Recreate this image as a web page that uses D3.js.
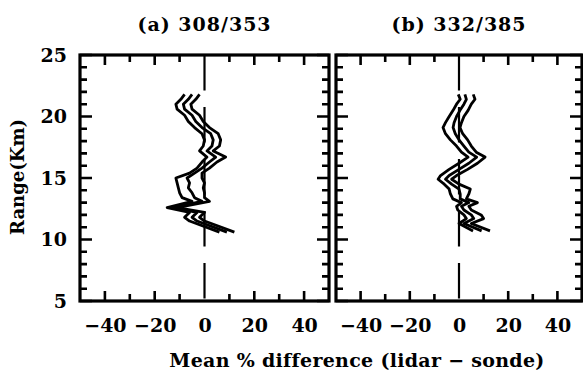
<!DOCTYPE html>
<html>
<head>
<meta charset="utf-8">
<script src="https://cdn.jsdelivr.net/npm/d3@7"></script>
<style>
  body { margin: 0; background: #fff; }
  svg { display: block; }
  text { font-family: "DejaVu Serif", serif; font-weight: bold; fill: #000; }
</style>
</head>
<body>
<div id="chart"></div>
<script>
// tick values
const xMajorTicks = [-40, -20, 0, 20, 40];
const xMinorTicks = [-40, -30, -20, -10, 10, 20, 30, 40];
const yMajorTicks = [5, 10, 15, 20, 25];
const yMinorTicks = [6, 7, 8, 9, 11, 12, 13, 14, 16, 17, 18, 19, 21, 22, 23, 24];

// panel (a) 308/353 : altitude (km) and mean % difference for the 3 curves
const altA = [21.8, 21.4, 21.0, 20.6, 20.1, 19.6, 19.1, 18.6, 18.1, 17.6, 17.2, 16.7, 16.3, 15.8, 15.4, 15.0, 14.6, 14.2, 13.8, 13.4, 13.1, 12.6, 12.2, 11.8, 11.5, 10.6];
const loA  = [-8, -9.5, -11.5, -11, -8, -6.5, -4, -1, 0, -0.5, -2, 1, -1, -3, -6, -11.5, -11, -10.5, -10, -9, -5, -15, -6, -8, -6, 6];
const midA = [-5, -6.5, -8.5, -8, -5, -3.5, -1, 2.5, 3.5, 3, 1, 4.5, 2, -1, -4, -7, -6, -6.5, -5, -4, -1, -13, -3, -5, -3, 9];
const hiA  = [-2, -3.5, -5.5, -5, -2, -0.5, 2, 5.5, 6.5, 6, 3.5, 8.5, 5, 2, -1, -1, 0, -0.5, 0, 0, 2, -11, 0, -2, 0, 12];

// panel (b) 332/385
const altB = [21.8, 21.4, 21.0, 20.5, 20.0, 19.5, 19.1, 18.6, 18.1, 17.6, 17.1, 16.7, 16.2, 15.7, 15.2, 14.9, 14.5, 14.1, 13.7, 13.3, 13.0, 12.7, 12.4, 12.0, 11.7, 11.3, 10.7];
const loB  = [-0.3, 0.5, -1, -2.4, -4, -5.5, -6.5, -5.5, -3.5, -1, 1, 3.7, 0, -4, -7.5, -8.5, -6, -4, -3.5, -2.5, 1, -1, -0.5, 2, 3, 0, 5.7];
const midB = [2.4, 3, 2, 0.4, -1, -2, -2.4, -1.5, 0, 2, 4, 7.2, 4, 0, -4, -5.5, -3, 0, 0.5, 0.5, 4, 1, 2, 5, 6, 2, 9.2];
const hiB  = [5.8, 6.5, 5, 3.7, 2, 1, 0.4, 1.5, 3.5, 5, 7, 10.6, 7.5, 3.5, -1, -3, 0, 4.6, 4, 3, 7.5, 4, 5, 9, 10, 5, 12.6];

const titles = ['(a) 308/353', '(b) 332/385'];
const xLabel = 'Mean % difference (lidar \u2212 sonde)';
const yLabel = 'Range(Km)';

const width = 583;
const height = 373;
const plotTop = 55, plotBottom = 301;

const panels = [
  { title: titles[0], left: 80, right: 329, alt: altA, curves: [loA, midA, hiA], yLabels: true },
  { title: titles[1], left: 336, right: 582, alt: altB, curves: [loB, midB, hiB], yLabels: false }
];

const svg = d3.select('#chart')
  .append('svg')
  .attr('width', width)
  .attr('height', height);

const y = d3.scaleLinear().domain([5, 25]).range([plotBottom, plotTop]);

panels.forEach(p => {
  const x = d3.scaleLinear().domain([-50, 50]).range([p.left, p.right]);
  const g = svg.append('g');

  // zero line (dashed)
  g.append('line')
    .attr('x1', x(0)).attr('x2', x(0))
    .attr('y1', y(25)).attr('y2', y(5))
    .attr('stroke', '#000')
    .attr('stroke-width', 2.2)
    .attr('stroke-dasharray', '35.5,16.5');

  // frame
  g.append('rect')
    .attr('x', p.left).attr('y', plotTop)
    .attr('width', p.right - p.left).attr('height', plotBottom - plotTop)
    .attr('fill', 'none')
    .attr('stroke', '#000')
    .attr('stroke-width', 3.2);

  // inward ticks on all four sides, drawn as one path
  const tickPath = d3.path();
  xMinorTicks.forEach(v => {
    const len = xMajorTicks.includes(v) ? 10 : 7;
    tickPath.moveTo(x(v), plotBottom); tickPath.lineTo(x(v), plotBottom - len);
    tickPath.moveTo(x(v), plotTop); tickPath.lineTo(x(v), plotTop + len);
  });
  yMajorTicks.concat(yMinorTicks).forEach(v => {
    const len = yMajorTicks.includes(v) ? 12 : 7;
    tickPath.moveTo(p.left, y(v)); tickPath.lineTo(p.left + len, y(v));
    tickPath.moveTo(p.right, y(v)); tickPath.lineTo(p.right - len, y(v));
  });
  g.append('path')
    .attr('d', tickPath.toString())
    .attr('fill', 'none')
    .attr('stroke', '#000')
    .attr('stroke-width', 2.6);

  // tick labels
  g.append('g')
    .attr('transform', `translate(0,${plotBottom})`)
    .call(d3.axisBottom(x).tickValues(xMajorTicks).tickSize(0).tickPadding(18))
    .call(a => a.select('.domain').remove())
    .call(a => a.selectAll('.tick text').attr('font-size', 19).attr('font-family', '"DejaVu Serif", serif').attr('font-weight', 'bold'));

  if (p.yLabels) {
    g.append('g')
      .attr('transform', `translate(${p.left},0)`)
      .call(d3.axisLeft(y).tickValues(yMajorTicks).tickSize(0).tickPadding(13))
      .call(a => a.select('.domain').remove())
      .call(a => a.selectAll('.tick text').attr('font-size', 19).attr('font-family', '"DejaVu Serif", serif').attr('font-weight', 'bold'));
  }

  // curves
  const line = d3.line().x(d => x(d[0])).y(d => y(d[1]));
  p.curves.forEach(c => {
    g.append('path')
      .datum(c.map((v, i) => [v, p.alt[i]]))
      .attr('d', line)
      .attr('fill', 'none')
      .attr('stroke', '#000')
      .attr('stroke-width', 2.8)
      .attr('stroke-linejoin', 'round');
  });

  // title
  g.append('text')
    .attr('x', x(0))
    .attr('y', 31)
    .attr('text-anchor', 'middle')
    .attr('font-size', 19)
    .attr('letter-spacing', 1)
    .text(p.title);
});

// axis titles
svg.append('text')
  .attr('x', 357)
  .attr('y', 367)
  .attr('text-anchor', 'middle')
  .attr('font-size', 19)
  .attr('letter-spacing', 0.3)
  .text(xLabel);

svg.append('text')
  .attr('transform', `translate(24,177) rotate(-90)`)
  .attr('text-anchor', 'middle')
  .attr('font-size', 18)
  .text(yLabel);
</script>
</body>
</html>
